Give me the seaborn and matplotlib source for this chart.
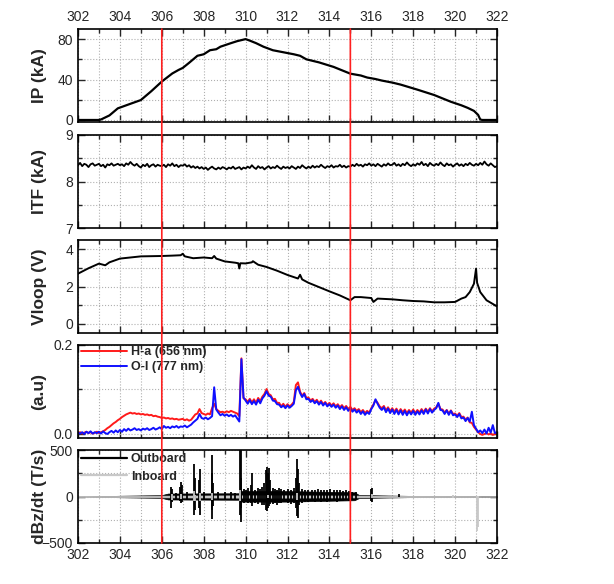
import seaborn as sns
import matplotlib.pyplot as plt
import numpy as np
from matplotlib.ticker import MultipleLocator, FormatStrFormatter
from matplotlib.patches import ConnectionPatch
from matplotlib.lines import Line2D

# ---- plasma current IP (kA) ----
ip_t = [302.0, 303.0, 303.1, 303.5, 303.9, 304.5, 305.0, 305.5, 306.0, 306.5,
        306.8, 307.0, 307.3, 307.7, 308.0, 308.3, 308.6, 308.8, 309.3, 309.6,
        310.0, 310.2, 310.5, 310.85, 311.3, 311.8, 312.3, 312.6, 312.9, 313.5,
        314.2, 315.0, 315.5, 315.8, 316.2, 316.5, 317.0, 317.4, 318.2, 319.0,
        319.8, 320.3, 320.6, 320.9, 321.1, 321.2, 321.3, 322.0]
ip_val = [0.0, 0.0, 0.5, 4.5, 11.5, 16.0, 19.7, 28.5, 38.0, 46.0,
          49.5, 51.5, 56.5, 63.5, 65.0, 69.0, 70.0, 72.5, 76.0, 78.0,
          80.0, 78.5, 76.0, 72.5, 69.0, 67.0, 65.0, 63.5, 60.0, 57.0,
          52.5, 45.8, 44.0, 42.0, 40.5, 39.0, 37.0, 35.0, 30.0, 24.7,
          18.0, 14.5, 12.0, 9.0, 5.0, 0.5, 0.0, 0.0]

# ---- sampled on a 0.1 s grid: ITF (kA), H-alpha, O-I ----
t01 = np.round(np.arange(302.0, 322.05, 0.1), 1)
itf = [8.35, 8.40, 8.33, 8.38, 8.36, 8.31, 8.37, 8.39, 8.34, 8.36,
       8.38, 8.33, 8.36, 8.30, 8.37, 8.35, 8.39, 8.34, 8.36, 8.38,
       8.35, 8.37, 8.33, 8.39, 8.36, 8.42, 8.37, 8.34, 8.38, 8.33,
       8.30, 8.36, 8.33, 8.38, 8.31, 8.35, 8.37, 8.32, 8.36, 8.34,
       8.33, 8.36, 8.31, 8.37, 8.34, 8.39, 8.33, 8.36, 8.31, 8.35,
       8.34, 8.37, 8.32, 8.35, 8.30, 8.33, 8.29, 8.32, 8.28, 8.31,
       8.27, 8.30, 8.25, 8.29, 8.32, 8.28, 8.26, 8.30, 8.27, 8.31,
       8.29, 8.26, 8.30, 8.28, 8.32, 8.27, 8.29, 8.31, 8.26, 8.30,
       8.28, 8.32, 8.29, 8.35, 8.30, 8.27, 8.33, 8.29, 8.31, 8.26,
       8.30, 8.33, 8.28, 8.31, 8.29, 8.34, 8.30, 8.27, 8.32, 8.29,
       8.31, 8.28, 8.33, 8.30, 8.27, 8.32, 8.29, 8.35, 8.31, 8.28,
       8.32, 8.29, 8.34, 8.30, 8.33, 8.31, 8.36, 8.32, 8.29, 8.33,
       8.31, 8.35, 8.30, 8.33, 8.32, 8.36, 8.31, 8.34, 8.30, 8.33,
       8.32, 8.36, 8.33, 8.38, 8.34, 8.36, 8.32, 8.37, 8.35, 8.39,
       8.34, 8.37, 8.33, 8.38, 8.35, 8.32, 8.37, 8.34, 8.39, 8.35,
       8.36, 8.40, 8.34, 8.37, 8.33, 8.38, 8.35, 8.41, 8.36, 8.33,
       8.37, 8.34, 8.39, 8.36, 8.42, 8.35, 8.38, 8.33, 8.40, 8.36,
       8.34, 8.38, 8.35, 8.41, 8.36, 8.33, 8.39, 8.35, 8.37, 8.32,
       8.36, 8.39, 8.34, 8.37, 8.33, 8.38, 8.35, 8.40, 8.36, 8.34,
       8.38, 8.35, 8.40, 8.36, 8.43, 8.37, 8.34, 8.39, 8.35, 8.31,
       8.33]

h_alpha = [0.002, 0.004, 0.001, 0.003, 0.005, 0.002, 0.004, 0.001, 0.003, 0.005,
           0.002, 0.004, 0.006, 0.009, 0.013, 0.016, 0.020, 0.024, 0.027, 0.031,
           0.034, 0.038, 0.041, 0.044, 0.046, 0.048, 0.046, 0.047, 0.045, 0.046,
           0.044, 0.045, 0.043, 0.044, 0.042, 0.043, 0.040, 0.041, 0.039, 0.038,
           0.036, 0.037, 0.035, 0.036, 0.034, 0.035, 0.033, 0.034, 0.032, 0.033,
           0.034, 0.031, 0.033, 0.030, 0.032, 0.038, 0.044, 0.046, 0.056, 0.047,
           0.045, 0.043, 0.046, 0.044, 0.058, 0.068, 0.056, 0.052, 0.049, 0.050,
           0.048, 0.051, 0.049, 0.052, 0.050, 0.048, 0.046, 0.040, 0.170, 0.080,
           0.078, 0.072, 0.079, 0.071, 0.078, 0.070, 0.081, 0.074, 0.084, 0.090,
           0.101, 0.090, 0.087, 0.078, 0.079, 0.070, 0.070, 0.062, 0.068, 0.061,
           0.067, 0.062, 0.066, 0.072, 0.110, 0.116, 0.095, 0.086, 0.092, 0.081,
           0.082, 0.075, 0.079, 0.072, 0.077, 0.069, 0.075, 0.067, 0.072, 0.065,
           0.070, 0.064, 0.069, 0.062, 0.067, 0.060, 0.065, 0.058, 0.063, 0.056,
           0.061, 0.054, 0.058, 0.052, 0.056, 0.049, 0.054, 0.047, 0.052, 0.048,
           0.058, 0.066, 0.076, 0.070, 0.062, 0.058, 0.063, 0.053, 0.060, 0.051,
           0.058, 0.050, 0.057, 0.048, 0.056, 0.049, 0.055, 0.047, 0.054, 0.048,
           0.055, 0.047, 0.054, 0.048, 0.056, 0.049, 0.057, 0.050, 0.058, 0.051,
           0.057, 0.060, 0.068, 0.056, 0.055, 0.048, 0.054, 0.046, 0.053, 0.045,
           0.046, 0.041, 0.047, 0.038, 0.039, 0.032, 0.037, 0.026, 0.025, 0.016,
           0.010, 0.004, 0.000, -0.002, 0.000, 0.002, -0.001, 0.001, -0.002, 0.000,
           0.001]

o_i = [0.003, 0.001, 0.004, 0.000, 0.005, 0.002, 0.006, 0.001, 0.004, 0.002,
       0.005, 0.001, 0.006, 0.002, 0.000, 0.004, 0.007, 0.003, 0.008, 0.004,
       0.009, 0.005, 0.011, 0.007, 0.012, 0.008, 0.010, 0.013, 0.009, 0.011,
       0.008, 0.012, 0.010, 0.013, 0.009, 0.011, 0.014, 0.010, 0.012, 0.015,
       0.011, 0.018, 0.014, 0.016, 0.013, 0.017, 0.015, 0.018, 0.014, 0.017,
       0.016, 0.019, 0.015, 0.018, 0.021, 0.026, 0.030, 0.034, 0.045, 0.036,
       0.034, 0.037, 0.033, 0.036, 0.040, 0.105, 0.055, 0.048, 0.042, 0.045,
       0.041, 0.044, 0.040, 0.043, 0.039, 0.042, 0.035, 0.028, 0.168, 0.082,
       0.075, 0.068, 0.076, 0.067, 0.074, 0.066, 0.077, 0.069, 0.080, 0.086,
       0.096, 0.086, 0.084, 0.075, 0.074, 0.067, 0.066, 0.060, 0.064, 0.058,
       0.064, 0.059, 0.063, 0.068, 0.098, 0.106, 0.092, 0.083, 0.090, 0.078,
       0.079, 0.072, 0.076, 0.069, 0.074, 0.066, 0.072, 0.064, 0.070, 0.062,
       0.067, 0.061, 0.066, 0.059, 0.064, 0.056, 0.062, 0.054, 0.060, 0.052,
       0.058, 0.050, 0.055, 0.048, 0.053, 0.045, 0.051, 0.043, 0.049, 0.045,
       0.056, 0.064, 0.078, 0.068, 0.059, 0.054, 0.060, 0.049, 0.057, 0.047,
       0.055, 0.045, 0.054, 0.044, 0.053, 0.043, 0.052, 0.042, 0.051, 0.044,
       0.052, 0.043, 0.051, 0.044, 0.053, 0.045, 0.055, 0.046, 0.056, 0.048,
       0.054, 0.058, 0.070, 0.054, 0.053, 0.045, 0.053, 0.043, 0.052, 0.042,
       0.044, 0.038, 0.045, 0.035, 0.037, 0.029, 0.036, 0.028, 0.050, 0.020,
       0.012, 0.004, 0.008, 0.002, 0.010, 0.001, 0.014, 0.003, 0.020, 0.002,
       0.004]

# ---- loop voltage (V) ----
vl_t = [302.0, 302.5, 303.0, 303.3, 303.5, 304.0, 305.0, 306.0, 306.5, 306.9,
        307.0, 307.1, 307.5, 308.0, 308.4, 308.5, 308.6, 309.0, 309.5, 309.65,
        309.7, 309.75, 310.0, 310.3, 310.35, 310.6, 311.0, 311.5, 312.0, 312.5,
        312.6, 312.7, 313.0, 313.5, 314.0, 314.5, 315.0, 315.2, 315.5, 316.0,
        316.1, 316.3, 317.0, 317.5, 318.0, 318.5, 319.0, 319.5, 320.0, 320.3,
        320.5, 320.7, 320.9, 321.0, 321.05, 321.2, 321.5, 322.0]
vloop = [2.69, 2.98, 3.23, 3.14, 3.30, 3.50, 3.62, 3.64, 3.66, 3.68,
         3.76, 3.62, 3.52, 3.56, 3.52, 3.64, 3.50, 3.35, 3.28, 3.25,
         2.97, 3.25, 3.24, 3.30, 3.36, 3.17, 3.05, 2.85, 2.62, 2.43,
         2.63, 2.38, 2.20, 1.97, 1.74, 1.52, 1.26, 1.43, 1.43, 1.38,
         1.17, 1.35, 1.31, 1.26, 1.22, 1.20, 1.15, 1.15, 1.17, 1.35,
         1.43, 1.70, 2.15, 2.96, 2.20, 1.70, 1.26, 0.93]

# ---- dBz/dt (T/s): outboard coil, background envelope + spikes ----
out_band_t = [302.0, 303.3, 304.0, 306.0, 306.3, 309.7, 309.8, 312.0, 315.2, 315.4,
              316.5, 318.0, 321.0, 322.0]
out_band_hi = [0, 4, 8, 15, 32, 35, 58, 58, 45, 18, 12, 6, 3, 0]
out_band_lo = [0, -4, -8, -15, -32, -35, -55, -55, -40, -18, -12, -6, -3, 0]
out_spk_t = [306.45, 306.5, 306.7, 306.85, 306.92, 306.98, 307.2, 307.53, 307.57, 307.78,
             307.82, 308.0, 308.38, 308.42, 308.46, 308.7, 309.0, 309.3, 309.5, 309.72,
             309.76, 309.8, 309.9, 310.0, 310.1, 310.25, 310.3, 310.45, 310.6, 310.7,
             310.8, 310.9, 310.98, 311.03, 311.08, 311.13, 311.18, 311.3, 311.4, 311.5,
             311.6, 311.7, 311.85, 312.0, 312.15, 312.3, 312.4, 312.46, 312.5, 312.55,
             312.7, 312.85, 313.0, 313.15, 313.3, 313.45, 313.6, 313.75, 313.9, 314.05,
             314.2, 314.35, 314.5, 314.65, 314.8, 314.95, 315.1, 315.25, 316.0, 316.04,
             317.3]
out_spk_hi = [107, 80, 40, 100, 154, 120, 45, 346, 200, 180,
              296, 50, 250, 450, 150, 45, 50, 45, 40, 500,
              520, 200, 80, 65, 90, 120, 250, 75, 95, 80,
              100, 150, 280, 321, 250, 310, 180, 90, 85, 70,
              95, 80, 70, 85, 75, 90, 200, 404, 300, 150,
              80, 70, 75, 65, 70, 80, 65, 75, 70, 80,
              65, 75, 70, 60, 65, 55, 50, 45, 80, 96,
              25]
out_spk_lo = [-125, -60, -35, -50, -71, -60, -40, -204, -150, -120,
              -204, -40, -150, -240, -100, -35, -40, -35, -30, -200,
              -275, -120, -70, -60, -75, -70, -107, -65, -80, -60,
              -90, -90, -150, -160, -120, -100, -80, -80, -70, -90,
              -65, -75, -60, -70, -80, -65, -120, -214, -228, -90,
              -70, -55, -60, -50, -55, -50, -55, -45, -55, -50,
              -45, -55, -50, -45, -40, -45, -35, -30, -50, -60,
              -8]

# ---- dBz/dt (T/s): inboard coil ----
in_band_t = [302.0, 303.0, 306.0, 309.7, 312.0, 315.0, 318.0, 321.0, 321.25, 322.0]
in_band_hi = [4, 5, 9, 12, 12, 10, 7, 5, 0, 0]
in_band_lo = [-4, -5, -9, -12, -12, -10, -7, -5, 0, 0]
in_spk_t = [306.47, 306.92, 307.53, 307.6, 307.82, 308.42, 309.74, 311.05, 312.46, 316.02,
            319.9, 321.05, 321.1]
in_spk_hi = [30, 30, 60, 20, 40, 35, 65, 20, 35, 25, 20, 5, 5]
in_spk_lo = [-35, -30, -45, -50, -45, -40, -45, -20, -35, -20, -15, -370, -330]

marker_times = [306, 315]

# ---- style ----
sns.set_style("ticks")
plt.rcParams['font.family'] = ['Liberation Sans', 'DejaVu Sans']
plt.rcParams['axes.linewidth'] = 1.2

fig = plt.figure(figsize=(6.14, 5.84), dpi=100)
W, H = 614, 584
left, width = 78 / W, 419 / W
tops = [29, 135, 240, 345, 450]
ph = 93
axes = [fig.add_axes([left, 1 - (t + ph) / H, width, ph / H]) for t in tops]

# panel 1: IP
ax = axes[0]
sns.lineplot(x=ip_t, y=ip_val, ax=ax, color='black', lw=1.6, estimator=None)
ax.set_ylim(-2, 90)
ax.yaxis.set_major_locator(MultipleLocator(40))
ax.yaxis.set_minor_locator(MultipleLocator(20))
ax.set_ylabel('IP (kA)')

# panel 2: ITF
ax = axes[1]
sns.lineplot(x=t01, y=itf, ax=ax, color='black', lw=1.3, estimator=None)
ax.set_ylim(7, 9)
ax.yaxis.set_major_locator(MultipleLocator(1))
ax.yaxis.set_minor_locator(MultipleLocator(0.5))
ax.set_ylabel('ITF (kA)')

# panel 3: Vloop
ax = axes[2]
sns.lineplot(x=vl_t, y=vloop, ax=ax, color='black', lw=1.4, estimator=None)
ax.set_ylim(-0.5, 4.5)
ax.yaxis.set_major_locator(MultipleLocator(2))
ax.yaxis.set_minor_locator(MultipleLocator(1))
ax.set_ylabel('Vloop (V)')

# panel 4: spectroscopy
ax = axes[3]
sns.lineplot(x=t01, y=h_alpha, ax=ax, color='#ff1a1a', lw=1.4, estimator=None,
             label='H-a (656 nm)')
sns.lineplot(x=t01, y=o_i, ax=ax, color='#1010ff', lw=1.4, estimator=None,
             label='O-I (777 nm)')
ax.set_ylim(-0.009, 0.2)
ax.yaxis.set_major_locator(MultipleLocator(0.2))
ax.yaxis.set_minor_locator(MultipleLocator(0.1))
ax.yaxis.set_major_formatter(FormatStrFormatter('%.1f'))
ax.set_ylabel('(a.u)')
ax.legend(loc='upper left', bbox_to_anchor=(-0.005, 1.04), frameon=False,
          handlelength=3.7, handletextpad=0.3, labelspacing=0.25,
          borderaxespad=0, prop={'weight': 'bold', 'size': 9})

# panel 5: dBz/dt
gray = '#c8c8c8'
ax = axes[4]
ax.fill_between(out_band_t, out_band_lo, out_band_hi, color='black', lw=0.5)
ax.vlines(out_spk_t, out_spk_lo, out_spk_hi, color='black', lw=1.3)
ax.fill_between(in_band_t, in_band_lo, in_band_hi, color=gray, lw=0.5)
ax.vlines(in_spk_t, in_spk_lo, in_spk_hi, color=gray, lw=1.3)
ax.set_ylim(-500, 500)
ax.yaxis.set_major_locator(MultipleLocator(500))
ax.yaxis.set_minor_locator(MultipleLocator(250))
ax.set_ylabel('dBz/dt (T/s)')
handles = [Line2D([], [], color='black', lw=1.6), Line2D([], [], color=gray, lw=1.6)]
ax.legend(handles, ['Outboard', 'Inboard'], loc='upper left',
          bbox_to_anchor=(-0.005, 1.02), frameon=False, handlelength=3.7,
          handletextpad=0.3, labelspacing=0.45, borderaxespad=0,
          prop={'weight': 'bold', 'size': 9})

for i, ax in enumerate(axes):
    ax.set_xlim(302, 322)
    ax.xaxis.set_major_locator(MultipleLocator(2))
    ax.xaxis.set_minor_locator(MultipleLocator(1))
    ax.grid(which='both', linestyle=':', color='#b0b0b0', lw=0.8)
    ax.tick_params(which='both', direction='in', top=True, right=True,
                   labelsize=10, width=1.0)
    ax.tick_params(which='major', length=5)
    ax.tick_params(which='minor', length=3)
    ax.tick_params(axis='x', labelbottom=(i == 4), labeltop=(i == 0))
    ax.set_xlabel('')
    ax.yaxis.label.set_fontweight('bold')
    ax.yaxis.label.set_fontsize(12.5)
    ax.yaxis.set_label_coords(-0.075, 0.5)
    for s in ax.spines.values():
        s.set_color('black')

# red time markers spanning all panels
for xv in marker_times:
    con = ConnectionPatch(xyA=(xv, 1), coordsA=axes[0].get_xaxis_transform(),
                          xyB=(xv, 0), coordsB=axes[-1].get_xaxis_transform(),
                          color='#ff2020', lw=1.2, zorder=5)
    fig.add_artist(con)

fig.savefig('out.png', dpi=100, facecolor='white')
